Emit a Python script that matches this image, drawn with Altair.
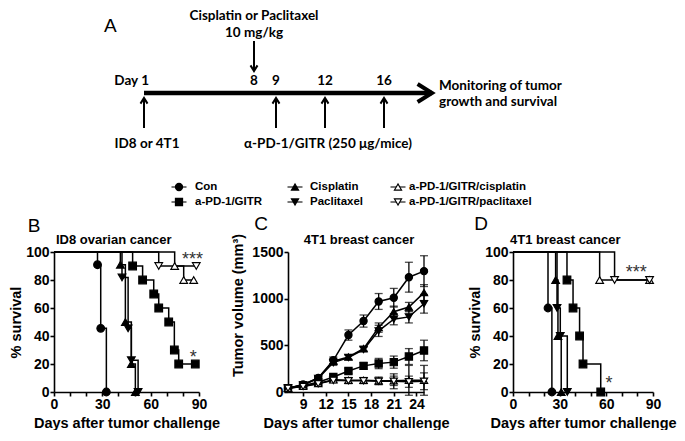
import altair as alt
import pandas as pd

FONT = "Arial, Liberation Sans, Helvetica, sans-serif"
FONT_A = "Lato"

# ---------------- groups ----------------
groups = ["Con", "a-PD-1/GITR", "Cisplatin", "Paclitaxel",
          "a-PD-1/GITR/cisplatin", "a-PD-1/GITR/paclitaxel"]
group_shapes = ["circle", "square", "triangle-up", "triangle-down",
                "triangle-up", "triangle-down"]
group_fills = ["black", "black", "black", "black", "white", "white"]

# ---------------- panel A (schedule) ----------------
label_days = [1, 8, 9, 12, 16]
day_labels = ["Day 1", "8", "9", "12", "16"]
arrow_up_days = [1, 9, 12, 16]
drug_day = [8]
drug_text = ["Cisplatin or Paclitaxel", "10 mg/kg"]
bottom_label_days = [1, 12]
bottom_labels = ["ID8 or 4T1", "α-PD-1/GITR (250 μg/mice)"]
timeline_days = [1, 20]
end_text = ["Monitoring of tumor", "growth and survival"]

# ---------------- panel B: ID8 survival ----------------
b_con_day = [27, 29, 32.5]
b_con_pct = [90.9, 45.5, 0]
b_pd1_day = [48.8, 55, 61.9, 65, 71.2, 74.7, 77.4, 87.7]
b_pd1_pct = [90, 80, 70, 60, 50, 30, 20, 20]
b_cis_day = [41.2, 44.3, 48, 50.5]
b_cis_pct = [90.9, 50, 20, 0]
b_pac_day = [42.2, 46, 48, 52.2]
b_pac_pct = [81.8, 45.5, 22.7, 0]
b_pdcis_day = [74.9, 80.5, 86.7]
b_pdcis_pct = [90, 80, 80]
b_pdpac_day = [65, 88.3]
b_pdpac_pct = [90, 90]
b_note_text = ["***", "*"]
b_note_day = [86, 86.5]
b_note_pct = [98, 28]

# ---------------- panel C: 4T1 tumour volume ----------------
c_days = [7, 9, 11, 13, 15, 17, 19, 21, 23, 25]
c_con_mean = [40, 80, 150, 340, 610, 760, 970, 1010, 1230, 1295]
c_con_sem = [10, 15, 20, 35, 55, 65, 85, 100, 160, 165]
c_pd1_mean = [40, 70, 105, 160, 225, 280, 305, 320, 380, 445]
c_pd1_sem = [8, 10, 15, 20, 30, 35, 55, 65, 85, 110]
c_cis_mean = [40, 75, 150, 330, 375, 465, 690, 860, 910, 1065]
c_cis_sem = [10, 12, 18, 30, 25, 25, 50, 60, 50, 85]
c_pac_mean = [40, 75, 145, 315, 370, 455, 655, 780, 805, 945]
c_pac_sem = [10, 12, 18, 30, 25, 25, 60, 60, 65, 100]
c_pdcis_mean = [40, 62, 90, 130, 125, 125, 120, 120, 125, 125]
c_pdcis_sem = [8, 10, 15, 25, 30, 30, 40, 50, 160, 160]
c_pdpac_mean = [40, 60, 88, 125, 120, 120, 115, 115, 110, 115]
c_pdpac_sem = [8, 10, 15, 25, 30, 30, 35, 80, 60, 90]

# ---------------- panel D: 4T1 survival ----------------
d_con_day = [22.5, 25]
d_con_pct = [60, 0]
d_pd1_day = [34.7, 38.6, 42.8, 45, 56.4]
d_pd1_pct = [80, 60, 40, 20, 0]
d_cis_day = [27.4, 28.9, 31]
d_cis_pct = [80, 40, 0]
d_pac_day = [28.3, 30.4, 34.9]
d_pac_pct = [60, 40, 0]
d_pdcis_day = [55.7, 87.8]
d_pdcis_pct = [80, 80]
d_pdpac_day = [65.3, 87.8]
d_pdpac_pct = [80, 80]
d_note_text = ["***", "*"]
d_note_day = [79.3, 61.7]
d_note_pct = [88.7, 9.6]

# ================= helpers =================
shape_enc = alt.Shape("group:N", scale=alt.Scale(domain=groups, range=group_shapes), legend=None)
fill_enc = alt.Fill("group:N", scale=alt.Scale(domain=groups, range=group_fills), legend=None)


def letter(txt, dx, dy):
    return alt.Chart(pd.DataFrame({"t": [txt]})).mark_text(
        font=FONT, fontSize=19, align="center", baseline="alphabetic", color="black"
    ).encode(text="t:N", x=alt.value(dx), y=alt.value(dy))


def panel_title(txt, align, dx):
    return alt.Chart(pd.DataFrame({"t": [txt]})).mark_text(
        font=FONT, fontSize=13, fontWeight="bold", align=align, baseline="alphabetic", color="black"
    ).encode(text="t:N", x=alt.value(dx), y=alt.value(-8))


def survival_panel(day_lists, pct_lists, notes, title_chart, letter_chart, width):
    line_rows, pt_rows = [], []
    for g, ds, ps in zip(groups, day_lists, pct_lists):
        line_rows.append({"group": g, "day": 0, "pct": 100})
        for d, p in zip(ds, ps):
            line_rows.append({"group": g, "day": d, "pct": p})
            pt_rows.append({"group": g, "day": d, "pct": p})
    x = alt.X("day:Q", scale=alt.Scale(domain=[0, 90], nice=False, zero=False),
              axis=alt.Axis(values=list(range(0, 91, 10)),
                            labelExpr="datum.value % 30 === 0 ? datum.label : ''",
                            title="Days after tumor challenge"))
    y = alt.Y("pct:Q", scale=alt.Scale(domain=[0, 100], nice=False),
              axis=alt.Axis(values=[0, 20, 40, 60, 80, 100], title="% survival",
                            titlePadding=2))
    lines = alt.Chart(pd.DataFrame(line_rows)).mark_line(
        interpolate="step-after", color="black", strokeWidth=1.5
    ).encode(x=x, y=y, detail="group:N")
    pts = alt.Chart(pd.DataFrame(pt_rows)).mark_point(
        filled=True, size=58, stroke="black", strokeWidth=1.2, opacity=1
    ).encode(x=x, y=y, shape=shape_enc, fill=fill_enc)
    nt = alt.Chart(pd.DataFrame({"day": notes[1], "pct": notes[2], "txt": notes[0]})).mark_text(
        font=FONT, fontSize=18, color="#333333", dy=5, baseline="middle"
    ).encode(x=x, y=y, text="txt:N")
    return alt.layer(lines, pts, nt, title_chart, letter_chart).properties(width=width, height=140)


# ================= panel A =================
a_scale = alt.Scale(domain=[1, 8, 9, 12, 16, 20], range=[90, 200, 222, 271, 330, 378],
                    nice=False, zero=False)


def ax(field):
    return alt.X(field, scale=a_scale, axis=None)


tl = alt.Chart(pd.DataFrame({"day": [timeline_days[0]], "day_end": [timeline_days[1]]})).mark_rule(
    strokeWidth=4.5, color="black", strokeCap="butt"
).encode(x=ax("day:Q"), x2="day_end:Q", y=alt.value(85))
tl_head = alt.Chart(pd.DataFrame({"day": [timeline_days[1]]})).mark_point(
    shape="M-1.6,-1L0,0L-1.6,1", size=324, filled=False, strokeWidth=4,
    color="black", strokeJoin="miter", opacity=1
).encode(x=ax("day:Q"), y=alt.value(85))
up_df = pd.DataFrame({"day": arrow_up_days})
up_shaft = alt.Chart(up_df).mark_rule(strokeWidth=2, color="black").encode(
    x=ax("day:Q"), y=alt.value(91), y2=alt.value(120))
up_head = alt.Chart(up_df).mark_point(
    shape="M-1,1.6L0,0L1,1.6", size=49, filled=False, strokeWidth=2, color="black", opacity=1
).encode(x=ax("day:Q"), y=alt.value(90))
dn_df = pd.DataFrame({"day": drug_day})
dn_shaft = alt.Chart(dn_df).mark_rule(strokeWidth=2, color="black").encode(
    x=ax("day:Q"), y=alt.value(33), y2=alt.value(62))
dn_head = alt.Chart(dn_df).mark_point(
    shape="M-1,-1.6L0,0L1,-1.6", size=49, filled=False, strokeWidth=2, color="black", opacity=1
).encode(x=ax("day:Q"), y=alt.value(63))
txt_kw = dict(font=FONT_A, fontWeight="bold", fontSize=13.5, color="black")
drug_lbl = alt.Chart(pd.DataFrame({"day": drug_day, "label": ["\n".join(drug_text)]})).mark_text(
    align="center", baseline="alphabetic", lineBreak="\n", lineHeight=16.5, **txt_kw
).encode(x=ax("day:Q"), y=alt.value(12), text="label:N")
day0_lbl = alt.Chart(pd.DataFrame({"day": label_days[:1], "label": day_labels[:1]})).mark_text(
    align="right", dx=5, baseline="alphabetic", **txt_kw
).encode(x=ax("day:Q"), y=alt.value(77), text="label:N")
day_lbl = alt.Chart(pd.DataFrame({"day": label_days[1:], "label": day_labels[1:]})).mark_text(
    align="center", baseline="alphabetic", **txt_kw
).encode(x=ax("day:Q"), y=alt.value(77), text="label:N")
bot_lbl = alt.Chart(pd.DataFrame({"day": bottom_label_days, "label": bottom_labels})).mark_text(
    align="center", dx=3, baseline="alphabetic", **txt_kw
).encode(x=ax("day:Q"), y=alt.value(140), text="label:N")
end_lbl = alt.Chart(pd.DataFrame({"day": [timeline_days[1]], "label": ["\n".join(end_text)]})).mark_text(
    align="left", dx=7, baseline="alphabetic", lineBreak="\n", lineHeight=16, **txt_kw
).encode(x=ax("day:Q"), y=alt.value(81.5), text="label:N")
a_letter = alt.Chart(pd.DataFrame({"t": ["A"]})).mark_text(
    font=FONT, fontSize=19, align="left", baseline="alphabetic", color="black"
).encode(text="t:N", x=alt.value(50), y=alt.value(24))

panelA = alt.layer(tl, tl_head, up_shaft, up_head, dn_shaft, dn_head, drug_lbl,
                   day0_lbl, day_lbl, bot_lbl, end_lbl, a_letter).properties(width=560, height=170)

# ================= legend =================
leg_df = pd.DataFrame({"group": groups,
                       "col": [i // 2 for i in range(len(groups))],
                       "row": [i % 2 for i in range(len(groups))]})
leg_y = alt.Y("row:Q", scale=alt.Scale(domain=[0, 1], range=[9, 24], nice=False, zero=False), axis=None)
leg_xm = alt.X("col:Q", scale=alt.Scale(domain=[0, 1, 2], range=[125, 241, 344], nice=False, zero=False), axis=None)
leg_xt = alt.X("col:Q", scale=alt.Scale(domain=[0, 1, 2], range=[141, 256, 355], nice=False, zero=False), axis=None)
leg_line = alt.Chart(leg_df).mark_tick(orient="horizontal", size=15, thickness=1.5, color="black").encode(x=leg_xm, y=leg_y)
leg_pts = alt.Chart(leg_df).mark_point(filled=True, size=50, stroke="black", strokeWidth=1.2, opacity=1).encode(
    x=leg_xm, y=leg_y, shape=shape_enc, fill=fill_enc)
leg_txt = alt.Chart(leg_df).mark_text(align="left", baseline="middle", font=FONT, fontSize=11.5,
                                      fontWeight="bold", color="black").encode(x=leg_xt, y=leg_y, text="group:N")
legend = alt.layer(leg_line, leg_pts, leg_txt).resolve_scale(x="independent").properties(width=560, height=74)

# ================= panel B =================
panelB = survival_panel(
    [b_con_day, b_pd1_day, b_cis_day, b_pac_day, b_pdcis_day, b_pdpac_day],
    [b_con_pct, b_pd1_pct, b_cis_pct, b_pac_pct, b_pdcis_pct, b_pdpac_pct],
    (b_note_text, b_note_day, b_note_pct),
    panel_title("ID8 ovarian cancer", "left", 2), letter("B", -20, -20), 145)

# ================= panel C =================
c_rows = []
for g, ms, ss in zip(groups,
                     [c_con_mean, c_pd1_mean, c_cis_mean, c_pac_mean, c_pdcis_mean, c_pdpac_mean],
                     [c_con_sem, c_pd1_sem, c_cis_sem, c_pac_sem, c_pdcis_sem, c_pdpac_sem]):
    for d, m, s in zip(c_days, ms, ss):
        c_rows.append({"group": g, "day": d, "vol": m, "lo": m - s, "hi": m + s})
c_df = pd.DataFrame(c_rows)
c_axis_y = alt.Axis(values=[0, 500, 1000, 1500], format="d", title="Tumor volume (mm³)",
                    titlePadding=6, titleY=53)
c_scale_y = alt.Scale(domain=[0, 1500], nice=False)
cx = alt.X("day:Q", scale=alt.Scale(domain=[7, 25], nice=False, zero=False),
           axis=alt.Axis(values=[9, 12, 15, 18, 21, 24], title="Days after tumor challenge"))


def cy(field):
    return alt.Y(field, scale=c_scale_y, axis=c_axis_y)


c_lines = alt.Chart(c_df).mark_line(color="black", strokeWidth=1.5).encode(x=cx, y=cy("vol:Q"), detail="group:N")
c_bars = alt.Chart(c_df).mark_rule(color="black", strokeWidth=1.3).encode(x=cx, y=cy("lo:Q"), y2="hi:Q")
c_cap_lo = alt.Chart(c_df).mark_tick(orient="horizontal", size=8, thickness=1.3, color="black").encode(x=cx, y=cy("lo:Q"))
c_cap_hi = alt.Chart(c_df).mark_tick(orient="horizontal", size=8, thickness=1.3, color="black").encode(x=cx, y=cy("hi:Q"))
c_pts = alt.Chart(c_df).mark_point(filled=True, size=52, stroke="black", strokeWidth=1.2, opacity=1).encode(
    x=cx, y=cy("vol:Q"), shape=shape_enc, fill=fill_enc)
panelC = alt.layer(c_lines, c_bars, c_cap_lo, c_cap_hi, c_pts,
                   panel_title("4T1 breast cancer", "center", 71), letter("C", -27, -22)).properties(
    width=136, height=140)

# ================= panel D =================
panelD = survival_panel(
    [d_con_day, d_pd1_day, d_cis_day, d_pac_day, d_pdcis_day, d_pdpac_day],
    [d_con_pct, d_pd1_pct, d_cis_pct, d_pac_pct, d_pdcis_pct, d_pdpac_pct],
    (d_note_text, d_note_day, d_note_pct),
    panel_title("4T1 breast cancer", "left", -3), letter("D", -32, -22), 140)

row = alt.hconcat(panelB, panelC, panelD, spacing=89, bounds="flush")

chart = alt.vconcat(panelA, legend, row, spacing=0, bounds="flush").properties(
    padding=0
).configure_view(stroke=None).configure_axis(
    domainColor="black", domainWidth=1.6, tickColor="black", tickWidth=1.6, tickSize=4,
    labelFont=FONT, labelFontSize=14, labelFontWeight="bold", labelColor="black", labelPadding=1,
    titleFont=FONT, titleFontSize=14.5, titleFontWeight="bold", titleColor="black",
    grid=False, labelFlush=False, labelOverlap=False
).configure_axisX(titlePadding=5)

chart.save("out.html", embed_options={"renderer": "svg", "actions": False})
